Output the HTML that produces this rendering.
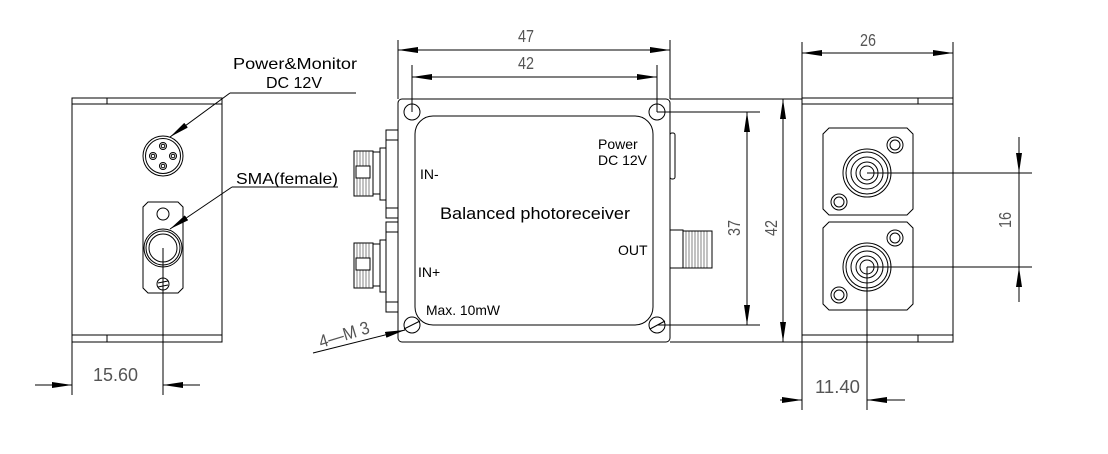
<!DOCTYPE html>
<html><head><meta charset="utf-8"><style>
html,body{margin:0;padding:0;background:#fff;}
svg{display:block;}
text{font-family:"Liberation Sans",sans-serif;}
.d{font-family:"Liberation Sans",sans-serif;fill:#555;font-size:18px;}
</style></head><body>
<svg width="1108" height="454" viewBox="0 0 1108 454" xmlns="http://www.w3.org/2000/svg">
<defs>
<marker id="a" viewBox="0 0 20 6" refX="20" refY="3" markerWidth="20" markerHeight="6" markerUnits="userSpaceOnUse" orient="auto"><path d="M0,0 L20,3 L0,6 z" fill="#000"/></marker>
</defs>
<g fill="none" stroke="#000" stroke-width="1">
<!-- LEFT VIEW -->
<rect x="72" y="98" width="150" height="244"/>
<line x1="72" y1="104" x2="222" y2="104"/>
<line x1="72" y1="335" x2="222" y2="335"/>
<line x1="107" y1="98" x2="107" y2="104"/>
<line x1="107" y1="335" x2="107" y2="342"/>
<circle cx="163" cy="156" r="20"/>
<circle cx="163" cy="156" r="17.5"/>
<circle cx="163" cy="146" r="3.5"/><circle cx="163" cy="146" r="1.8"/>
<circle cx="163" cy="166" r="3.5"/><circle cx="163" cy="166" r="1.8"/>
<circle cx="153" cy="156" r="3.5"/><circle cx="153" cy="156" r="1.8"/>
<circle cx="173" cy="156" r="3.5"/><circle cx="173" cy="156" r="1.8"/>
<path d="M148,202 H178 L183,207 V288 L178,293 H148 L143,288 V207 Z"/>
<circle cx="163" cy="214" r="6"/>
<circle cx="163" cy="248" r="19"/>
<circle cx="163" cy="248" r="17"/>
<circle cx="163" cy="248" r="14"/>
<circle cx="163" cy="284" r="6"/>
<line x1="158" y1="283" x2="168" y2="281"/><line x1="158" y1="287" x2="168" y2="285"/>
<line x1="163" y1="248" x2="163" y2="395"/>
<line x1="72" y1="342" x2="72" y2="395"/>
<line x1="35" y1="385" x2="72" y2="385" marker-end="url(#a)"/>
<line x1="200" y1="385" x2="163" y2="385" marker-end="url(#a)"/>
<line x1="356" y1="93" x2="230" y2="93"/>
<line x1="230" y1="93" x2="170" y2="137" marker-end="url(#a)"/>
<line x1="338" y1="187" x2="232" y2="187"/>
<line x1="232" y1="187" x2="170" y2="229" marker-end="url(#a)"/>

<!-- MIDDLE VIEW -->
<rect x="398" y="99" width="272" height="243" rx="4"/>
<rect x="415" y="116" width="238" height="209" rx="18"/>
<circle cx="412" cy="112" r="8"/><circle cx="657" cy="112" r="8"/>
<circle cx="412" cy="325" r="8"/><circle cx="657" cy="325" r="8"/>
<line x1="404" y1="329" x2="420" y2="321"/>
<line x1="650" y1="329" x2="665" y2="321"/>
<rect x="386" y="130" width="12" height="88"/>
<line x1="386" y1="140" x2="398" y2="140"/><line x1="386" y1="208" x2="398" y2="208"/>
<rect x="380" y="148" width="6" height="52"/>
<rect x="373" y="152" width="7" height="42"/>
<rect x="354" y="151" width="19" height="45" fill="#fff"/>
<rect x="386" y="222" width="12" height="90"/>
<line x1="386" y1="232" x2="398" y2="232"/><line x1="386" y1="302" x2="398" y2="302"/>
<rect x="380" y="240" width="6" height="52"/>
<rect x="373" y="244" width="7" height="42"/>
<rect x="354" y="243" width="19" height="45" fill="#fff"/>
</g>
<g stroke="#333" stroke-width="0.6">
<path d="M357,151V196M360,151V196M363,151V196M366,151V196M369,151V196"/>
<path d="M357,243V288M360,243V288M363,243V288M366,243V288M369,243V288"/>
<path d="M686,231V268M689,231V268M692,231V268M695,231V268M698,231V268M701,231V268M704,231V268M707,231V268"/>
</g>
<rect x="356" y="166" width="14" height="12" fill="#fff" stroke="#000"/>
<rect x="356" y="258" width="14" height="12" fill="#fff" stroke="#000"/>
<g fill="none" stroke="#000" stroke-width="1">
<rect x="670" y="133" width="5" height="46" rx="2"/>
<rect x="670" y="230" width="13" height="38"/>
<rect x="683" y="231" width="29" height="37"/>
<line x1="398" y1="40" x2="398" y2="99"/><line x1="670" y1="40" x2="670" y2="99"/>
<line x1="534" y1="50" x2="398" y2="50" marker-end="url(#a)"/>
<line x1="534" y1="50" x2="670" y2="50" marker-end="url(#a)"/>
<line x1="412" y1="65" x2="412" y2="112"/><line x1="657" y1="65" x2="657" y2="112"/>
<line x1="534" y1="77" x2="412" y2="77" marker-end="url(#a)"/>
<line x1="534" y1="77" x2="657" y2="77" marker-end="url(#a)"/>
<line x1="670" y1="99" x2="802" y2="99"/>
<line x1="670" y1="342" x2="802" y2="342"/>
<line x1="657" y1="112" x2="760" y2="112"/>
<line x1="657" y1="325" x2="760" y2="325"/>
<line x1="747" y1="218" x2="747" y2="112" marker-end="url(#a)"/>
<line x1="747" y1="218" x2="747" y2="325" marker-end="url(#a)"/>
<line x1="783" y1="220" x2="783" y2="99" marker-end="url(#a)"/>
<line x1="783" y1="220" x2="783" y2="342" marker-end="url(#a)"/>
<line x1="313" y1="353" x2="405" y2="330" marker-end="url(#a)"/>

<!-- RIGHT VIEW -->
<rect x="802" y="98" width="151" height="244"/>
<line x1="802" y1="104" x2="953" y2="104"/>
<line x1="802" y1="335" x2="953" y2="335"/>
<line x1="918" y1="98" x2="918" y2="104"/>
<line x1="918" y1="335" x2="918" y2="342"/>
<path d="M829,128 H907 L913,134 V209 L907,215 H829 L823,209 V134 Z"/>
<path d="M829,222 H907 L913,228 V304 L907,310 H829 L823,304 V228 Z"/>
<circle cx="867" cy="173" r="24"/><circle cx="867" cy="173" r="21"/><circle cx="867" cy="173" r="16"/><circle cx="867" cy="173" r="11"/><circle cx="867" cy="173" r="7"/>
<circle cx="867" cy="267" r="24"/><circle cx="867" cy="267" r="21"/><circle cx="867" cy="267" r="16"/><circle cx="867" cy="267" r="11"/><circle cx="867" cy="267" r="7"/>
<circle cx="895" cy="145" r="8"/><circle cx="895" cy="145" r="5"/>
<circle cx="839" cy="202" r="8"/><circle cx="839" cy="202" r="5"/>
<circle cx="895" cy="238" r="8"/><circle cx="895" cy="238" r="5"/>
<circle cx="839" cy="295" r="8"/><circle cx="839" cy="295" r="5"/>
<line x1="867" y1="173" x2="1032" y2="173"/>
<line x1="867" y1="267" x2="1032" y2="267"/>
<line x1="1019" y1="137" x2="1019" y2="173" marker-end="url(#a)"/>
<line x1="1019" y1="173" x2="1019" y2="267"/>
<line x1="1019" y1="302" x2="1019" y2="267" marker-end="url(#a)"/>
<line x1="802" y1="42" x2="802" y2="98"/><line x1="953" y1="42" x2="953" y2="98"/>
<line x1="878" y1="53" x2="802" y2="53" marker-end="url(#a)"/>
<line x1="878" y1="53" x2="953" y2="53" marker-end="url(#a)"/>
<line x1="867" y1="267" x2="867" y2="410"/>
<line x1="802" y1="342" x2="802" y2="410"/>
<line x1="780" y1="400" x2="802" y2="400" marker-end="url(#a)"/>
<line x1="905" y1="400" x2="867" y2="400" marker-end="url(#a)"/>
</g>

<g fill="#000" font-size="16">
<text x="233" y="69" textLength="124" lengthAdjust="spacingAndGlyphs">Power&amp;Monitor</text>
<text x="266" y="88" textLength="56" lengthAdjust="spacingAndGlyphs">DC 12V</text>
<text x="236" y="184" textLength="102" lengthAdjust="spacingAndGlyphs">SMA(female)</text>
<text x="420" y="179" font-size="14">IN-</text>
<text x="418" y="277" font-size="14">IN+</text>
<text x="440" y="219" font-size="17" textLength="190" lengthAdjust="spacingAndGlyphs">Balanced photoreceiver</text>
<text x="598" y="149" font-size="14">Power</text>
<text x="598" y="165" font-size="14">DC 12V</text>
<text x="618" y="255" font-size="14">OUT</text>
<text x="426" y="315" font-size="14" textLength="74" lengthAdjust="spacingAndGlyphs">Max. 10mW</text>
</g>
<g class="d">
<text x="526" y="42" text-anchor="middle" class="d" transform="translate(526,0) scale(0.8,1) translate(-526,0)">47</text>
<text x="526" y="69" text-anchor="middle" class="d" transform="translate(526,0) scale(0.8,1) translate(-526,0)">42</text>
<text x="868" y="46" text-anchor="middle" class="d" transform="translate(868,0) scale(0.8,1) translate(-868,0)">26</text>
<text x="93" y="381" class="d" textLength="45" lengthAdjust="spacingAndGlyphs">15.60</text>
<text x="815" y="393" class="d" textLength="45" lengthAdjust="spacingAndGlyphs">11.40</text>
<text transform="translate(740,228) rotate(-90) scale(0.8,1)" text-anchor="middle" class="d">37</text>
<text transform="translate(777,228) rotate(-90) scale(0.8,1)" text-anchor="middle" class="d">42</text>
<text transform="translate(1011,220) rotate(-90) scale(0.8,1)" text-anchor="middle" class="d">16</text>
<text transform="translate(321,348) rotate(-17)" class="d" textLength="52" lengthAdjust="spacingAndGlyphs">4—M 3</text>
</g>
</svg>
</body></html>
